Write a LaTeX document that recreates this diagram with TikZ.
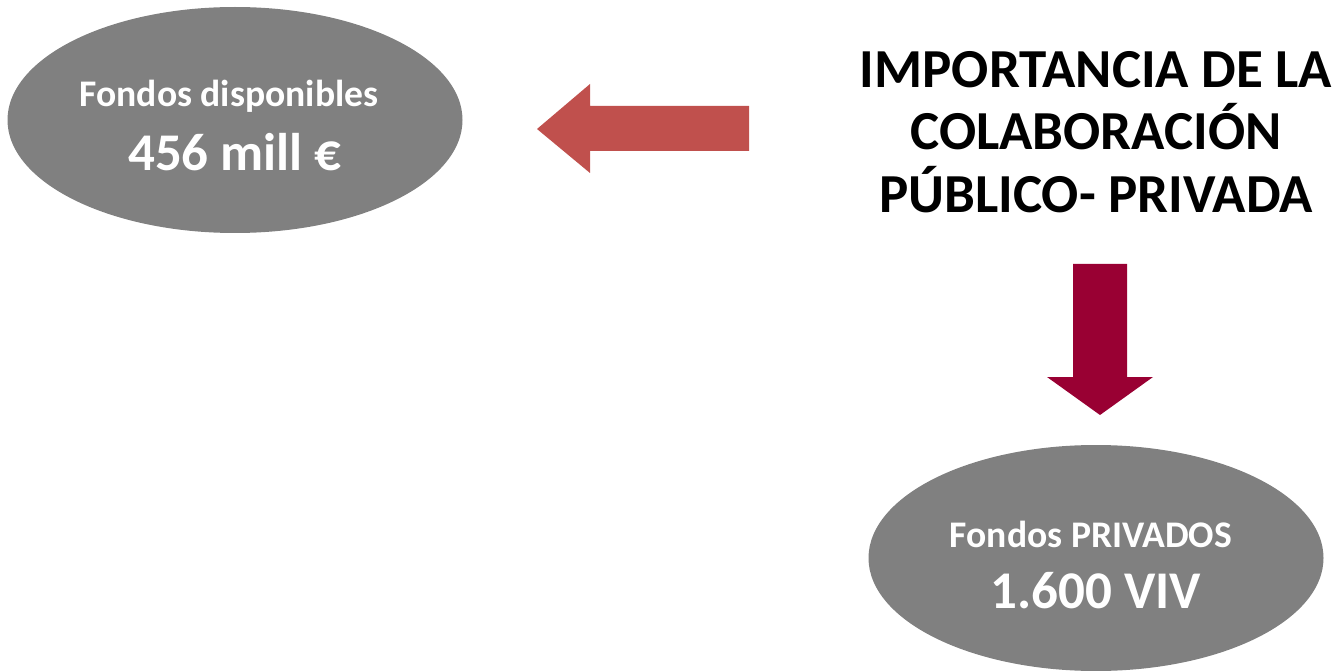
\documentclass[tikz,border=0pt]{standalone}
\usepackage{fontspec}
\setmainfont{Carlito}
\usepackage{tikz}
\usetikzlibrary{shapes.geometric, positioning}
\definecolor{fondgray}{HTML}{808080}
\definecolor{arrowred}{HTML}{C0504D}
\definecolor{arrowwine}{HTML}{990033}

\begin{document}
\begin{tikzpicture}[
  x=1pt, y=-1pt,
  fondo/.style={ellipse, fill=fondgray, draw=none, minimum width=455pt, minimum height=226pt, inner sep=0pt},
  fondtxt/.style={anchor=base, text=white, inner sep=0pt},
  fondname/.style={fondtxt, font=\bfseries\fontsize{37.6}{44}\selectfont},
  fondval/.style={fondtxt, font=\bfseries\fontsize{53}{62}\selectfont}
]
\useasboundingbox (0,0) rectangle (1334,671);

% public funds (left) and private funds (bottom right)
\node[fondo] (pub) at (235,120) {};
\node[fondname] (pubname) at (229,107) {Fondos disponibles};
\node[fondval] (pubval) at (235,171) {456 mill €};

\node[fondo] (priv) at (1096,558) {};
\node[fondname] (privname) at (1091,547) {Fondos PRIVADOS};
\node[fondval] (privval) at (1096,608) {1.600 VIV};

% title
\node[align=center, inner sep=0pt, font=\bfseries\fontsize{55}{62.5}\selectfont] (title) at (1096,132)
  {IMPORTANCIA DE LA\\ COLABORACIÓN\\ PÚBLICO- PRIVADA};

% block arrows
\fill[arrowred] (749,106) -- (590,106) -- (590,84) -- (537,129)
  -- (590,173) -- (590,151) -- (749,151) -- cycle;
\fill[arrowwine] (1073,264) -- (1127,264) -- (1127,377) -- (1153,377)
  -- (1100,415) -- (1047,377) -- (1073,377) -- cycle;
\end{tikzpicture}
\end{document}
